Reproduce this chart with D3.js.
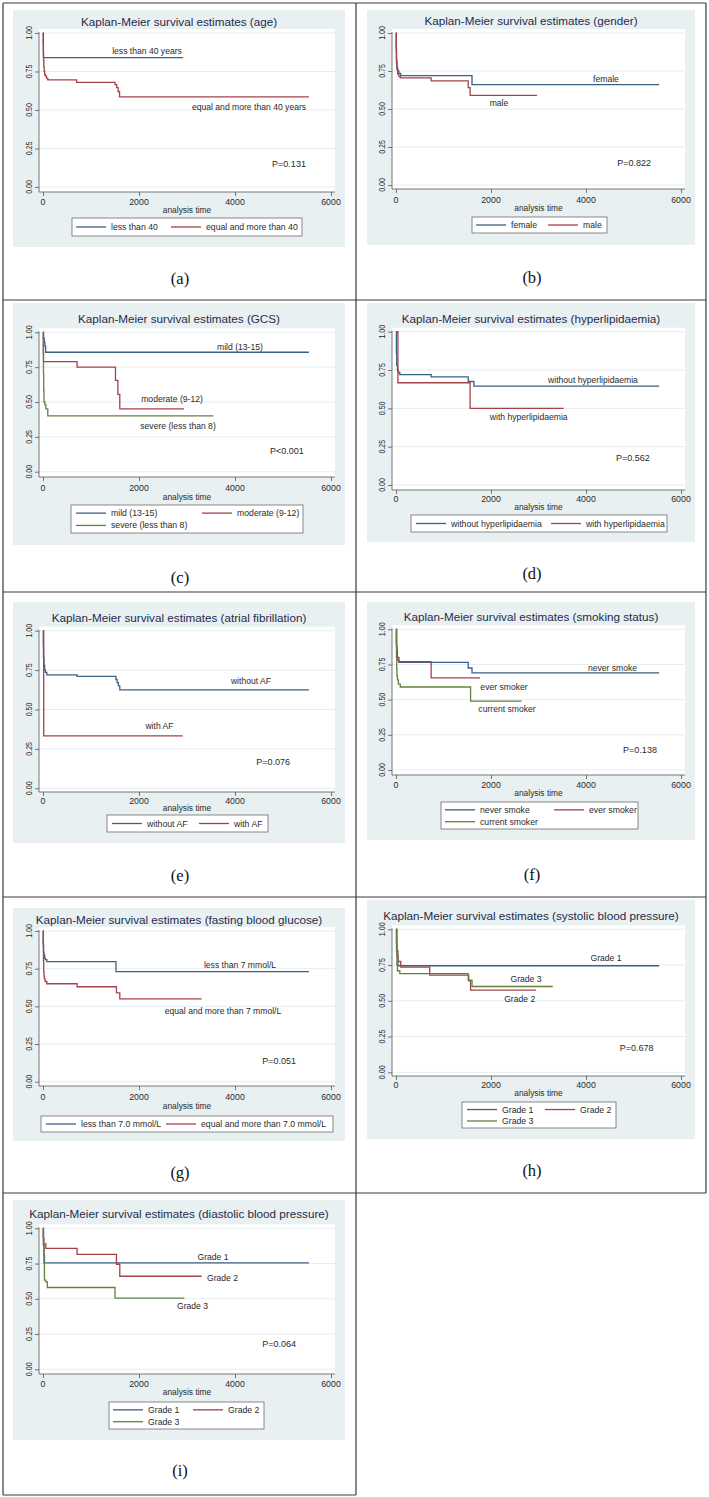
<!DOCTYPE html>
<html><head><meta charset="utf-8">
<script src="https://cdn.jsdelivr.net/npm/d3@7"></script>
<style>
html,body{margin:0;padding:0;background:#fff;}
svg{display:block;}
text{font-family:"Liberation Sans",Arial,sans-serif;}
</style></head><body>
<svg id="chart" width="709" height="1497"></svg>
<script>
// ---------- shared axis data ----------
const xTickValues = [0, 2000, 4000, 6000];
const yTickValues = [0, 0.25, 0.5, 0.75, 1];
const yTickLabels = ["0.00", "0.25", "0.50", "0.75", "1.00"];
const xAxisTitle = "analysis time";
const seriesColors = ["#3a6186", "#a5414a", "#62823c"];

// ---------- (a) age ----------
const ageLegend = ["less than 40", "equal and more than 40"];
const ageCurveText = ["less than 40 years", "equal and more than 40 years"];
const ageLess40T = [0, 8, 2920];
const ageLess40S = [1, 0.84, 0.84];
const ageMore40T = [0, 4, 8, 12, 18, 25, 35, 50, 75, 100, 700, 1500, 1535, 1565, 1595, 5540];
const ageMore40S = [1, 0.93, 0.87, 0.82, 0.78, 0.75, 0.73, 0.72, 0.705, 0.695, 0.68, 0.665, 0.645, 0.62, 0.585, 0.585];
const ageP = "P=0.131";

// ---------- (b) gender ----------
const genderLegend = ["female", "male"];
const genderCurveText = ["female", "male"];
const femaleT = [0, 5, 10, 20, 35, 60, 100, 1600, 5540];
const femaleS = [1, 0.9, 0.82, 0.77, 0.75, 0.735, 0.72, 0.66, 0.66];
const maleT = [0, 5, 10, 20, 35, 60, 90, 740, 1520, 1560, 2970];
const maleS = [1, 0.88, 0.8, 0.76, 0.73, 0.715, 0.705, 0.685, 0.64, 0.59, 0.59];
const genderP = "P=0.822";

// ---------- (c) GCS ----------
const gcsLegend = ["mild (13-15)", "moderate (9-12)", "severe (less than 8)"];
const gcsCurveText = ["mild (13-15)", "moderate (9-12)", "severe (less than 8)"];
const mildT = [0, 10, 25, 40, 55, 5540];
const mildS = [1, 0.96, 0.93, 0.9, 0.857, 0.857];
const moderateT = [0, 10, 710, 1510, 1560, 1600, 2940];
const moderateS = [1, 0.79, 0.75, 0.655, 0.555, 0.45, 0.45];
const severeT = [0, 5, 10, 15, 20, 40, 60, 100, 3550];
const severeS = [1, 0.85, 0.7, 0.58, 0.5, 0.48, 0.45, 0.40, 0.40];
const gcsP = "P<0.001";

// ---------- (d) hyperlipidaemia ----------
const lipidLegend = ["without hyperlipidaemia", "with hyperlipidaemia"];
const lipidCurveText = ["without hyperlipidaemia", "with hyperlipidaemia"];
const noLipidT = [0, 8, 15, 30, 50, 80, 740, 1520, 1640, 5540];
const noLipidS = [1, 0.86, 0.78, 0.75, 0.735, 0.72, 0.705, 0.675, 0.645, 0.645];
const lipidT = [0, 40, 1560, 3530];
const lipidS = [1, 0.667, 0.5, 0.5];
const lipidP = "P=0.562";

// ---------- (e) atrial fibrillation ----------
const afLegend = ["without AF", "with AF"];
const afCurveText = ["without AF", "with AF"];
const noAfT = [0, 5, 10, 20, 35, 50, 80, 710, 1520, 1545, 1570, 1600, 5540];
const noAfS = [1, 0.9, 0.83, 0.78, 0.75, 0.735, 0.72, 0.71, 0.69, 0.67, 0.65, 0.625, 0.625];
const afT = [0, 15, 2910];
const afS = [1, 0.333, 0.333];
const afP = "P=0.076";

// ---------- (f) smoking status ----------
const smokeLegend = ["never smoke", "ever smoker", "current smoker"];
const smokeCurveText = ["never smoke", "ever smoker", "current smoker"];
const neverT = [0, 10, 20, 40, 60, 1520, 1600, 5540];
const neverS = [1, 0.88, 0.8, 0.78, 0.765, 0.725, 0.69, 0.69];
const everT = [0, 15, 30, 60, 740, 1770];
const everS = [1, 0.85, 0.8, 0.77, 0.655, 0.655];
const currentT = [0, 5, 10, 15, 20, 30, 50, 90, 1570, 2645];
const currentS = [1, 0.9, 0.8, 0.72, 0.67, 0.64, 0.61, 0.59, 0.49, 0.49];
const smokeP = "P=0.138";

// ---------- (g) fasting blood glucose ----------
const fbgLegend = ["less than 7.0 mmol/L", "equal and more than 7.0 mmol/L"];
const fbgCurveText = ["less than 7 mmol/L", "equal and more than 7 mmol/L"];
const fbgLowT = [0, 5, 10, 20, 35, 50, 80, 1520, 5540];
const fbgLowS = [1, 0.92, 0.86, 0.84, 0.82, 0.81, 0.797, 0.73, 0.73];
const fbgHighT = [0, 5, 10, 15, 20, 30, 45, 80, 710, 1530, 1600, 3305];
const fbgHighS = [1, 0.9, 0.8, 0.73, 0.7, 0.68, 0.665, 0.65, 0.63, 0.59, 0.55, 0.55];
const fbgP = "P=0.051";

// ---------- (h) systolic blood pressure ----------
const sbpLegend = ["Grade 1", "Grade 2", "Grade 3"];
const sbpCurveText = ["Grade 1", "Grade 2", "Grade 3"];
const sbpG1T = [0, 10, 20, 40, 5540];
const sbpG1S = [1, 0.9, 0.82, 0.745, 0.745];
const sbpG2T = [0, 20, 40, 100, 710, 1530, 1570, 2950];
const sbpG2S = [1, 0.85, 0.775, 0.735, 0.68, 0.64, 0.575, 0.575];
const sbpG3T = [0, 10, 20, 30, 80, 1520, 1600, 3300];
const sbpG3S = [1, 0.85, 0.75, 0.71, 0.69, 0.645, 0.6, 0.6];
const sbpP = "P=0.678";

// ---------- (i) diastolic blood pressure ----------
const dbpLegend = ["Grade 1", "Grade 2", "Grade 3"];
const dbpCurveText = ["Grade 1", "Grade 2", "Grade 3"];
const dbpG1T = [0, 10, 20, 30, 5540];
const dbpG1S = [1, 0.88, 0.81, 0.755, 0.755];
const dbpG2T = [0, 5, 20, 60, 710, 1530, 1600, 3305];
const dbpG2S = [1, 0.93, 0.89, 0.857, 0.815, 0.745, 0.66, 0.66];
const dbpG3T = [0, 10, 20, 30, 60, 90, 1500, 2945];
const dbpG3S = [1, 0.88, 0.75, 0.633, 0.62, 0.58, 0.505, 0.505];
const dbpP = "P=0.064";

const panelTitles = [
  "Kaplan-Meier survival estimates (age)",
  "Kaplan-Meier survival estimates (gender)",
  "Kaplan-Meier survival estimates (GCS)",
  "Kaplan-Meier survival estimates (hyperlipidaemia)",
  "Kaplan-Meier survival estimates (atrial fibrillation)",
  "Kaplan-Meier survival estimates (smoking status)",
  "Kaplan-Meier survival estimates (fasting blood glucose)",
  "Kaplan-Meier survival estimates (systolic blood pressure)",
  "Kaplan-Meier survival estimates (diastolic blood pressure)"
];
const panelLetters = ["(a)", "(b)", "(c)", "(d)", "(e)", "(f)", "(g)", "(h)", "(i)"];

// ---------- layout (positions only) ----------
const layouts = [
  {g:[13,10,345,247], titleY:22, ax:[39,43,331,335], ay:[33,187,192], tickY:202, atY:210, leg:[72,218,302,236], cols:[76,171], letter:[180,278], notes:[[2167,0.883],[4292,0.519]], pAt:[5125,0.149]},
  {g:[367,10,695,245], titleY:21, ax:[392,396,681,685], ay:[33,185,189], tickY:200, atY:208, leg:[472,217,607,233], cols:[476,548], letter:[532,277], notes:[[4421,0.697],[2168,0.539]], pAt:[5011,0.145]},
  {g:[13,303,345,545], titleY:319, ax:[39,43,331,335], ay:[332.3,471.7,477], tickY:488, atY:497, leg:[71,505,303,533], cols:[76,202], letter:[180,577], notes:[[4104,0.897],[2688,0.522],[2813,0.328]], pAt:[5083,0.148]},
  {g:[367,303,695,542], titleY:319, ax:[392,396,681,685], ay:[331.7,485,490], tickY:499, atY:507, leg:[411,515,667,532], cols:[416,551], letter:[532,573], notes:[[4147,0.685],[2794,0.444]], pAt:[4989,0.176]},
  {g:[13,602,345,843], titleY:618, ax:[39,43,331,335], ay:[630.7,788.3,792], tickY:801, atY:808, leg:[107,815,268,832], cols:[112,199], letter:[180,875], notes:[[4333,0.681],[2427,0.395]], pAt:[4792,0.167]},
  {g:[367,602,695,840], titleY:617, ax:[392,396,681,685], ay:[629.3,770,775], tickY:785, atY:793, leg:[441,802,638,829], cols:[445,554], letter:[532,874], notes:[[4558,0.723],[2274,0.588],[2337,0.431]], pAt:[5137,0.142]},
  {g:[13,908,345,1141], titleY:920, ax:[39,43,331,335], ay:[931,1081.7,1086], tickY:1097, atY:1106, leg:[41,1116,333,1132], cols:[46,166], letter:[180,1172], notes:[[4104,0.776],[3750,0.468]], pAt:[4917,0.136]},
  {g:[367,900,695,1139], titleY:916, ax:[392,396,681,685], ay:[929.3,1072.3,1076], tickY:1085, atY:1093, leg:[462,1102,616,1128], cols:[467,545], letter:[532,1170], notes:[[4421,0.797],[2604,0.510],[2737,0.652]], pAt:[5067,0.168]},
  {g:[13,1200,345,1440], titleY:1214, ax:[39,43,331,335], ay:[1228.3,1369.3,1374], tickY:1384, atY:1392, leg:[109,1402,264,1429], cols:[113,193], letter:[180,1470], notes:[[3542,0.794],[3740,0.65],[3115,0.451]], pAt:[4917,0.177]}
];

const panels = [
  {legend: ageLegend, curveText: ageCurveText, p: ageP, series: [[ageLess40T, ageLess40S], [ageMore40T, ageMore40S]]},
  {legend: genderLegend, curveText: genderCurveText, p: genderP, series: [[femaleT, femaleS], [maleT, maleS]]},
  {legend: gcsLegend, curveText: gcsCurveText, p: gcsP, series: [[mildT, mildS], [moderateT, moderateS], [severeT, severeS]]},
  {legend: lipidLegend, curveText: lipidCurveText, p: lipidP, series: [[noLipidT, noLipidS], [lipidT, lipidS]]},
  {legend: afLegend, curveText: afCurveText, p: afP, series: [[noAfT, noAfS], [afT, afS]]},
  {legend: smokeLegend, curveText: smokeCurveText, p: smokeP, series: [[neverT, neverS], [everT, everS], [currentT, currentS]]},
  {legend: fbgLegend, curveText: fbgCurveText, p: fbgP, series: [[fbgLowT, fbgLowS], [fbgHighT, fbgHighS]]},
  {legend: sbpLegend, curveText: sbpCurveText, p: sbpP, series: [[sbpG1T, sbpG1S], [sbpG2T, sbpG2S], [sbpG3T, sbpG3S]]},
  {legend: dbpLegend, curveText: dbpCurveText, p: dbpP, series: [[dbpG1T, dbpG1S], [dbpG2T, dbpG2S], [dbpG3T, dbpG3S]]}
];

const svg = d3.select("#chart");
svg.append("rect").attr("width", 709).attr("height", 1497).attr("fill", "#fff");

panels.forEach((P, i) => {
  const L = layouts[i];
  const g = svg.append("g").attr("class", "panel");
  // grey graph region
  g.append("rect").attr("x", L.g[0]).attr("y", L.g[1])
    .attr("width", L.g[2] - L.g[0]).attr("height", L.g[3] - L.g[1]).attr("fill", "#e9f0f2");
  const x = d3.scaleLinear().domain([0, 6000]).range([L.ax[1], L.ax[2]]);
  const y = d3.scaleLinear().domain([0, 1]).range([L.ay[1], L.ay[0]]);
  const plotTop = L.ay[0] - 4;
  // white plot region
  g.append("rect").attr("x", L.ax[0]).attr("y", plotTop)
    .attr("width", L.ax[3] - L.ax[0]).attr("height", L.ay[2] - plotTop).attr("fill", "#fff");
  // gridlines
  g.selectAll("line.grid").data(yTickValues).join("line")
    .attr("x1", L.ax[0]).attr("x2", L.ax[3])
    .attr("y1", d => y(d)).attr("y2", d => y(d))
    .attr("stroke", "#e6edf0").attr("stroke-width", 1);
  // title
  g.append("text").attr("x", (L.g[0] + L.g[2]) / 2).attr("y", L.titleY).attr("dy", "0.35em")
    .attr("text-anchor", "middle").attr("font-size", 11.7).attr("fill", "#1f2b4c")
    .text(panelTitles[i]);
  // x axis
  const xAxis = g.append("g").attr("transform", `translate(0,${L.ay[2]})`)
    .call(d3.axisBottom(x).tickValues(xTickValues).tickSize(4).tickPadding(3).tickSizeOuter(0).tickFormat(d3.format("d")));
  xAxis.select(".domain").attr("d", `M${L.ax[0]},0H${L.ax[3]}`).attr("stroke", "#555").attr("stroke-width", 0.8);
  xAxis.selectAll(".tick line").attr("stroke", "#555").attr("stroke-width", 0.8);
  xAxis.selectAll(".tick text").remove();
  g.selectAll("text.xt").data(xTickValues).join("text").attr("class", "xt")
    .attr("x", d => x(d)).attr("y", L.tickY).attr("dy", "0.35em").attr("text-anchor", "middle")
    .attr("font-size", 8.8).attr("fill", "#2a2a2a").text(d => d3.format("d")(d));
  g.append("text").attr("x", (L.ax[0] + L.ax[3]) / 2).attr("y", L.atY).attr("dy", "0.35em")
    .attr("text-anchor", "middle").attr("font-size", 8.4).attr("fill", "#2a2a2a").text(xAxisTitle);
  // y axis
  const yAxis = g.append("g").attr("transform", `translate(${L.ax[0]},0)`)
    .call(d3.axisLeft(y).tickValues(yTickValues).tickSize(4).tickSizeOuter(0).tickFormat((d, k) => yTickLabels[k]));
  yAxis.select(".domain").attr("d", `M0,${L.ay[0] - 1}V${L.ay[2]}`).attr("stroke", "#555").attr("stroke-width", 0.8);
  yAxis.selectAll(".tick line").attr("stroke", "#555").attr("stroke-width", 0.8);
  yAxis.selectAll(".tick text").remove();
  g.selectAll("text.yt").data(yTickValues).join("text").attr("class", "yt")
    .attr("transform", d => `translate(${L.ax[0] - 10},${y(d)}) rotate(-90) scale(0.8,1)`)
    .attr("dy", "0.35em").attr("text-anchor", "middle").attr("font-size", 8.8).attr("fill", "#2a2a2a")
    .text((d, k) => yTickLabels[k]);
  // survival curves
  const line = d3.line().x(d => x(d[0])).y(d => y(d[1])).curve(d3.curveStepAfter);
  P.series.forEach((s, k) => {
    const pts = s[0].map((t, j) => [t, s[1][j]]);
    g.append("path").attr("d", line(pts)).attr("fill", "none")
      .attr("stroke", seriesColors[k]).attr("stroke-width", 1.3);
  });
  // curve labels
  P.curveText.forEach((txt, k) => {
    const at = L.notes[k];
    g.append("text").attr("x", x(at[0])).attr("y", y(at[1])).attr("dy", "0.35em")
      .attr("text-anchor", "middle").attr("font-size", 8.6).attr("fill", "#2a2a2a").text(txt);
  });
  g.append("text").attr("x", x(L.pAt[0])).attr("y", y(L.pAt[1])).attr("dy", "0.35em")
    .attr("text-anchor", "middle").attr("font-size", 9).attr("fill", "#2a2a2a").text(P.p);
  // legend
  const lg = L.leg;
  g.append("rect").attr("x", lg[0]).attr("y", lg[1]).attr("width", lg[2] - lg[0]).attr("height", lg[3] - lg[1])
    .attr("fill", "#fff").attr("stroke", "#6d6d6d").attr("stroke-width", 0.8);
  const nRows = Math.ceil(P.legend.length / 2);
  const h = lg[3] - lg[1];
  P.legend.forEach((txt, k) => {
    const row = Math.floor(k / 2), col = k % 2;
    const cy = nRows === 1 ? lg[1] + h / 2 : lg[1] + h * (row === 0 ? 0.29 : 0.73);
    const cx = L.cols[col];
    g.append("line").attr("x1", cx).attr("x2", cx + 30).attr("y1", cy).attr("y2", cy)
      .attr("stroke", seriesColors[k]).attr("stroke-width", 1.3);
    g.append("text").attr("x", cx + 35).attr("y", cy).attr("dy", "0.35em")
      .attr("font-size", 8.7).attr("fill", "#2a2a2a").text(txt);
  });
  // panel letter
  svg.append("text").attr("x", L.letter[0]).attr("y", L.letter[1]).attr("dy", "0.35em")
    .attr("text-anchor", "middle").attr("font-size", 16.5).attr("fill", "#111")
    .style("font-family", "'Liberation Serif','Times New Roman',serif").text(panelLetters[i]);
});

// frame lines
const frame = svg.append("g").attr("stroke", "#3a3a3a").attr("stroke-width", 1.2).attr("fill", "none");
const rowLines = [3, 300, 592, 897, 1193];
rowLines.forEach(yy => frame.append("line").attr("x1", 3).attr("x2", 706).attr("y1", yy).attr("y2", yy));
frame.append("line").attr("x1", 3).attr("x2", 356).attr("y1", 1495).attr("y2", 1495);
frame.append("line").attr("x1", 3).attr("x2", 3).attr("y1", 3).attr("y2", 1495);
frame.append("line").attr("x1", 356).attr("x2", 356).attr("y1", 3).attr("y2", 1495);
frame.append("line").attr("x1", 706).attr("x2", 706).attr("y1", 3).attr("y2", 1193);
</script>
</body></html>
